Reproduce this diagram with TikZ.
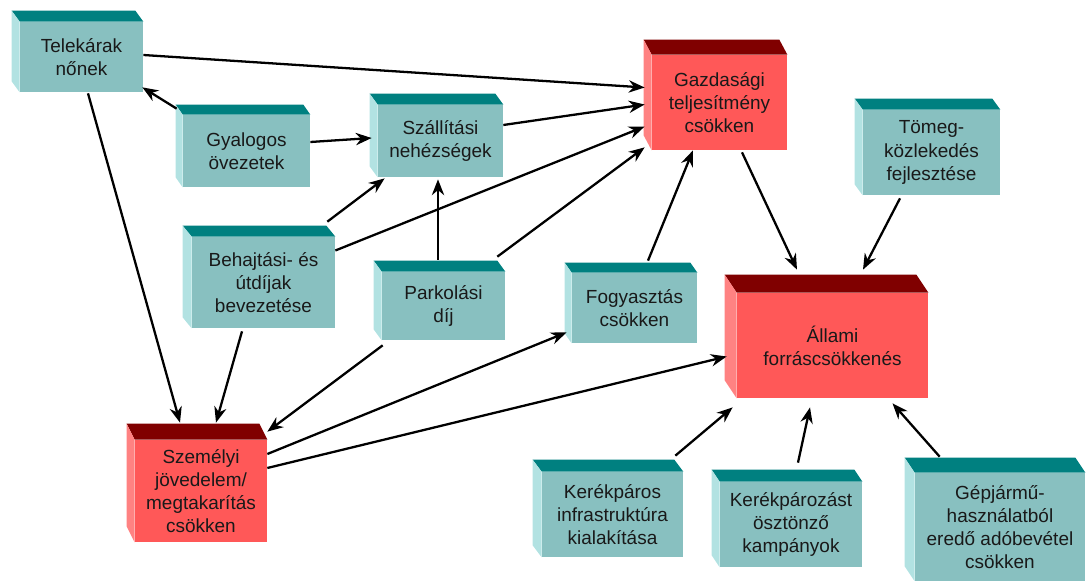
\documentclass[tikz,border=0pt]{standalone}
\usepackage{fontspec}
\setmainfont{Liberation Sans}
\usetikzlibrary{arrows.meta}
\definecolor{tealfront}{RGB}{136,192,192}
\definecolor{tealtop}{RGB}{0,128,128}
\definecolor{tealside}{RGB}{178,226,226}
\definecolor{redfront}{RGB}{255,88,88}
\definecolor{redtop}{RGB}{128,0,0}
\definecolor{redside}{RGB}{255,130,130}
\tikzset{
  doboz/.style 2 args={inner sep=0pt, align=center, text=black!90,
    minimum width=#1*0.02cm, minimum height=#2*0.02cm,
    font=\fontsize{10.8}{13.2}\selectfont},
  tealbox/.style={fill=tealfront},
  redbox/.style={fill=redfront},
  nyil/.style={-{Stealth[length=9pt,width=7pt]}, line width=1.3pt}
}

\begin{document}
\begin{tikzpicture}[x=0.02cm,y=-0.02cm]
\useasboundingbox (0,0) rectangle (1090,581);

\node[doboz={123}{70}, tealbox] (tel) at (81.5,57) {Telekárak\\nőnek};
\node[doboz={127}{72}, tealbox] (gya) at (246.5,151) {Gyalogos\\övezetek};
\node[doboz={125}{72}, tealbox] (sza) at (440.5,141) {Szállítási\\nehézségek};
\node[doboz={135}{95}, redbox] (gaz) at (719.5,102.5) {Gazdasági\\teljesítmény\\csökken};
\node[doboz={137}{85}, tealbox] (tom) at (931.5,152.5) {Tömeg-\\közlekedés\\fejlesztése};
\node[doboz={143}{91}, tealbox] (beh) at (263.5,282.5) {Behajtási- és\\útdíjak\\bevezetése};
\node[doboz={123}{68}, tealbox] (par) at (443.5,306) {Parkolási\\díj};
\node[doboz={125}{70}, tealbox] (fog) at (634.5,308) {Fogyasztás\\csökken};
\node[doboz={191}{105}, redbox] (allami) at (832.5,345.5) {Állami\\forráscsökkenés};
\node[doboz={132}{102}, redbox] (sze) at (201,491) {Személyi\\jövedelem/\\megtakarítás\\csökken};
\node[doboz={141}{85}, tealbox] (ker) at (612.5,514.5) {Kerékpáros\\infrastruktúra\\kialakítása};
\node[doboz={142}{85}, tealbox] (kam) at (791,524.5) {Kerékpározást\\ösztönző\\kampányok};
\node[doboz={170}{108}, tealbox] (gep) at (1000,527) {Gépjármű-\\használatból\\eredő adóbevétel\\csökken};

\foreach \n/\t/\s/\dx/\dy in {tel/tealtop/tealside/-8/-11, gya/tealtop/tealside/-7/-10,
    sza/tealtop/tealside/-8/-11, gaz/redtop/redside/-8/-15, tom/tealtop/tealside/-8/-11,
    beh/tealtop/tealside/-9/-11, par/tealtop/tealside/-8/-11, fog/tealtop/tealside/-7/-10,
    allami/redtop/redside/-12/-18, sze/redtop/redside/-8/-16, ker/tealtop/tealside/-9/-12,
    kam/tealtop/tealside/-8/-12, gep/tealtop/tealside/-10/-15}{
  \fill[\t] (\n.north west) -- ++(\dx,\dy) -- ([shift={(\dx,\dy)}]\n.north east) -- (\n.north east) -- cycle;
  \fill[\s] (\n.north west) -- ++(\dx,\dy) -- ([shift={(\dx,\dy)}]\n.south west) -- (\n.south west) -- cycle;
}

\draw[nyil] ([shift={(0,-2)}]tel.east) -- ([shift={(-7,-15)}]gaz.west);
\draw[nyil] ([shift={(-6,-6)}]gya.north west) -- ([shift={(-1,-5)}]tel.south east);
\draw[nyil] ([shift={(0,-9)}]gya.east) -- ([shift={(-6,-3)}]sza.west);
\draw[nyil] ([shift={(0,-16)}]sza.east) -- ([shift={(-7,2)}]gaz.west);
\draw[nyil] ([shift={(-8,-15)}]beh.north east) -- ([shift={(7,1)}]sza.south west);
\draw[nyil] ([shift={(0,-32)}]beh.east) -- ([shift={(-7,24)}]gaz.west);
\draw[nyil] ([shift={(-5.5,-12)}]par.north) -- ([shift={(-2.5,2)}]sza.south);
\draw[nyil] ([shift={(-8,-15)}]par.north east) -- ([shift={(-7,-3)}]gaz.south west);
\draw[nyil] ([shift={(13.5,-12)}]fog.north) -- ([shift={(-26.5,0)}]gaz.south);
\draw[nyil] ([shift={(6.5,1)}]tel.south) -- ([shift={(-21,-17)}]sze.north);
\draw[nyil] ([shift={(-21.5,3)}]beh.south) -- ([shift={(15,-17)}]sze.north);
\draw[nyil] ([shift={(1,5)}]par.south west) -- ([shift={(0,-8)}]sze.north east);
\draw[nyil] ([shift={(0,-37)}]sze.east) -- ([shift={(-5,-11)}]fog.south west);
\draw[nyil] ([shift={(0,-23)}]sze.east) -- ([shift={(-10,11)}]allami.west);
\draw[nyil] ([shift={(22.5,2)}]gaz.south) -- ([shift={(-35.5,-23)}]allami.north);
\draw[nyil] ([shift={(-31.5,3)}]tom.south) -- ([shift={(30.5,-23)}]allami.north);
\draw[nyil] ([shift={(-8,-16)}]ker.north east) -- ([shift={(-4,9)}]allami.south west);
\draw[nyil] ([shift={(7,-19)}]kam.north) -- ([shift={(-22.5,9)}]allami.south);
\draw[nyil] ([shift={(25,-16)}]gep.north west) -- ([shift={(60,5)}]allami.south);
\end{tikzpicture}
\end{document}
